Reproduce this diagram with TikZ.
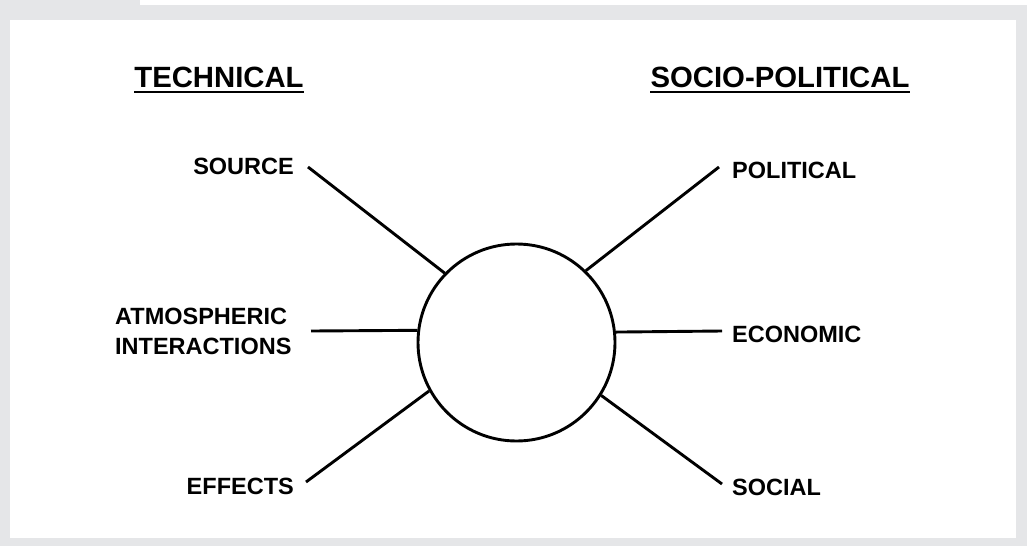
\documentclass[tikz,border=0pt]{standalone}
\usepackage{fontspec}
\setmainfont{Liberation Sans}
\definecolor{framegray}{RGB}{229,230,232}
\tikzset{
  label/.style={inner sep=0pt, font=\bfseries\fontsize{23.5}{30}\selectfont},
  heading/.style={inner sep=0pt, font=\bfseries\fontsize{29.3}{34}\selectfont},
  spoke/.style={line width=2.9pt, line cap=butt},
  hubcircle/.style={circle, draw, line width=2.9pt, minimum size=197pt, inner sep=0pt},
  underbar/.style={line width=2.8pt}
}
\begin{document}
\begin{tikzpicture}[x=1pt, y=-1pt]
  % frame and page
  \fill[framegray] (0,0) rectangle (1027,546);
  \fill[white] (140,0) rectangle (1027,5);
  \fill[white] (10,20) rectangle (1016,538);
  \useasboundingbox (0,0) rectangle (1027,546);

  % headings
  \node[heading, anchor=base] (tech) at (219,87) {TECHNICAL};
  \node[heading, anchor=base] (socio) at (780,87) {SOCIO-POLITICAL};
  \draw[underbar] ([yshift=-5pt]tech.base west) -- ([yshift=-5pt]tech.base east);
  \draw[underbar] ([yshift=-5pt]socio.base west) -- ([yshift=-5pt]socio.base east);

  % central circle
  \node[hubcircle] (hub) at (516.5,342.5) {};

  % left labels
  \node[label, anchor=base east] (source) at (294,174) {SOURCE};
  \node[label, anchor=west, align=left] (atmos) at (115,331) {ATMOSPHERIC\\INTERACTIONS};
  \node[label, anchor=base east] (effects) at (294,494) {EFFECTS};

  % right labels
  \node[label, anchor=base west] (political) at (732,178) {POLITICAL};
  \node[label, anchor=base west] (economic) at (732,342) {ECONOMIC};
  \node[label, anchor=base west] (social) at (732,495) {SOCIAL};

  % spoke ends next to the labels
  \coordinate (sourceEnd) at (308,167);
  \coordinate (atmosEnd) at (311,331);
  \coordinate (effectsEnd) at (306,482);
  \coordinate (politicalEnd) at (719,167);
  \coordinate (economicEnd) at (722,331);
  \coordinate (socialEnd) at (722,484);

  % spokes
  \draw[spoke] (sourceEnd) -- (hub.136);
  \draw[spoke] (atmosEnd) -- (hub.173.3);
  \draw[spoke] (effectsEnd) -- (hub.209);
  \draw[spoke] (politicalEnd) -- (hub.46);
  \draw[spoke] (economicEnd) -- (hub.6.7);
  \draw[spoke] (socialEnd) -- (hub.-32);
\end{tikzpicture}
\end{document}
